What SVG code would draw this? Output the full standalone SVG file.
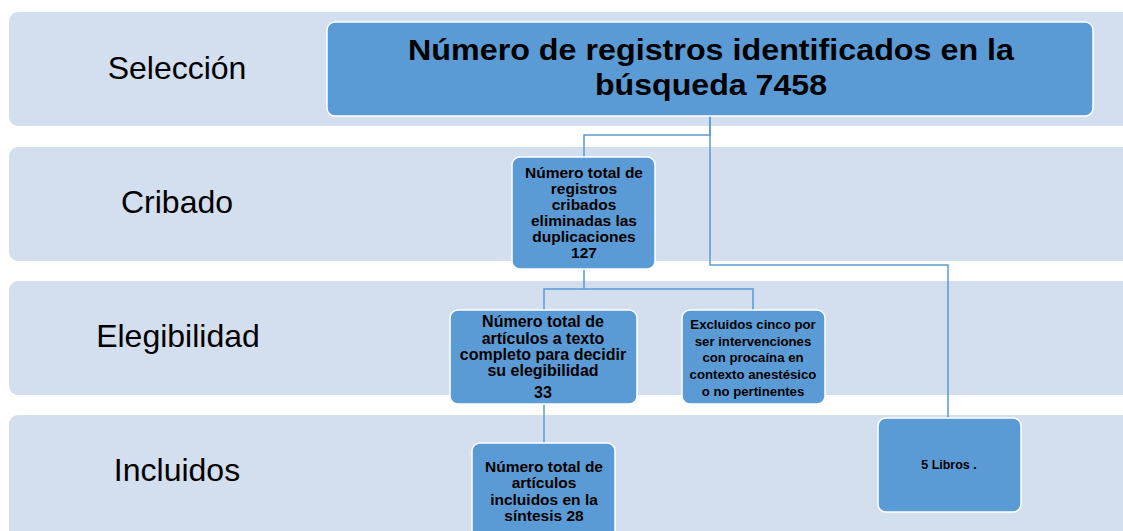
<svg xmlns="http://www.w3.org/2000/svg" width="1123" height="531" viewBox="0 0 1123 531">
<style>
.band{fill:#D3DEEE;}
.node{fill:#5B9BD5;stroke:#FFFFFF;stroke-width:1.5;}
.lbl{font-family:"Liberation Sans",Arial,sans-serif;font-size:32px;fill:#000;text-anchor:middle;}
.t{font-family:"Liberation Sans",Arial,sans-serif;font-weight:bold;fill:#000;text-anchor:middle;}
.conn{fill:none;stroke:#5B9BD5;stroke-width:1.5;}
</style>
<rect width="1123" height="531" fill="#FFFFFF"/>
<g id="bands">
<rect class="band" x="9" y="12" width="1130" height="114" rx="9"/>
<rect class="band" x="9" y="147" width="1130" height="114" rx="9"/>
<rect class="band" x="9" y="281" width="1130" height="114" rx="9"/>
<rect class="band" x="9" y="415" width="1130" height="130" rx="9"/>
<text class="lbl" x="177" y="79">Selección</text>
<text class="lbl" x="177" y="213">Cribado</text>
<text class="lbl" x="178" y="347">Elegibilidad</text>
<text class="lbl" x="177" y="481">Incluidos</text>
</g>
<g id="connectors">
<path class="conn" d="M710,116 V135 H584 V157"/>
<path class="conn" d="M710,116 V265 H948 V418"/>
<path class="conn" d="M584,269 V289 H544 V310 M584,289 H753 V310"/>
<path class="conn" d="M544,404 V443"/>
</g>
<g id="n1">
<rect class="node" x="327" y="22" width="766" height="94" rx="8"/>
<text class="t" font-size="30" x="711" y="60" textLength="606" lengthAdjust="spacingAndGlyphs">Número de registros identificados en la</text>
<text class="t" font-size="30" x="711" y="95" textLength="232" lengthAdjust="spacingAndGlyphs">búsqueda 7458</text>
</g>
<g id="n2">
<rect class="node" x="512" y="157" width="143" height="112" rx="8"/>
<text class="t" font-size="15.5" x="584" y="178">Número total de</text>
<text class="t" font-size="15.5" x="584" y="194">registros</text>
<text class="t" font-size="15.5" x="584" y="210">cribados</text>
<text class="t" font-size="15.5" x="584" y="226">eliminadas las</text>
<text class="t" font-size="15.5" x="584" y="242">duplicaciones</text>
<text class="t" font-size="15.5" x="584" y="258">127</text>
</g>
<g id="n3">
<rect class="node" x="450" y="310" width="187" height="94" rx="8"/>
<text class="t" font-size="16" x="543" y="327">Número total de</text>
<text class="t" font-size="16" x="543" y="344">artículos a texto</text>
<text class="t" font-size="16" x="543" y="360">completo para decidir</text>
<text class="t" font-size="16" x="543" y="376">su elegibilidad</text>
<text class="t" font-size="16" x="543" y="398">33</text>
</g>
<g id="n4">
<rect class="node" x="682" y="310" width="143" height="94" rx="8"/>
<text class="t" font-size="13.2" x="753" y="329">Excluidos cinco por</text>
<text class="t" font-size="13.2" x="753" y="346">ser intervenciones</text>
<text class="t" font-size="13.2" x="753" y="362">con procaína en</text>
<text class="t" font-size="13.2" x="753" y="379">contexto anestésico</text>
<text class="t" font-size="13.2" x="753" y="396">o no pertinentes</text>
</g>
<g id="n5">
<rect class="node" x="472" y="443" width="143" height="100" rx="8"/>
<text class="t" font-size="15.5" x="544" y="472">Número total de</text>
<text class="t" font-size="15.5" x="544" y="488">artículos</text>
<text class="t" font-size="15.5" x="544" y="505">incluidos en la</text>
<text class="t" font-size="15.5" x="544" y="521">síntesis 28</text>
</g>
<g id="n6">
<rect class="node" x="878" y="418" width="143" height="94" rx="8"/>
<text class="t" font-size="12.5" x="949" y="469">5 Libros .</text>
</g>
</svg>
